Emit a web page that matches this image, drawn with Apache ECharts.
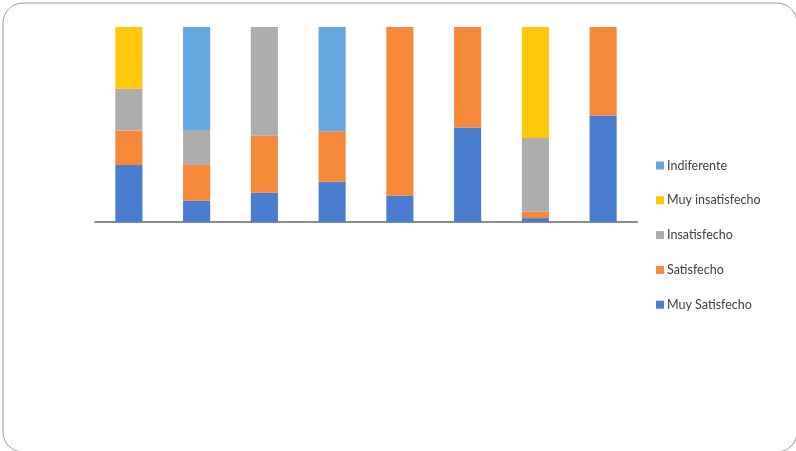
<!DOCTYPE html>
<html><head><meta charset="utf-8">
<script src="https://cdn.jsdelivr.net/npm/echarts@6/dist/echarts.min.js"></script>
<style>html,body{margin:0;padding:0;background:#fff}#c{width:796px;height:451px}</style>
</head><body><div id="c"></div>
<script>
const categories = ['1','2','3','4','5','6','7','8'];
const muySatisfecho   = [29.2, 10.9, 15.0, 20.6, 13.5, 48.4, 2.0, 54.6];
const satisfecho      = [17.7, 18.4, 29.2, 26.0, 86.5, 51.6, 3.2, 45.4];
const insatisfecho    = [21.4, 17.8, 55.8, 0, 0, 0, 37.9, 0];
const muyInsatisfecho = [31.7, 0, 0, 0, 0, 0, 56.9, 0];
const indiferente     = [0, 52.9, 0, 53.4, 0, 0, 0, 0];
const seriesNames = ['Muy Satisfecho','Satisfecho','Insatisfecho','Muy insatisfecho','Indiferente'];
const seriesData = [muySatisfecho, satisfecho, insatisfecho, muyInsatisfecho, indiferente];
const colors = ['#4A7DD0','#F68839','#ADADAD','#FFC80A','#65A5E0'];

const chart = echarts.init(document.getElementById('c'), null, {renderer:'canvas'});
chart.setOption({
  animation:false,
  color: colors,
  graphic:[{type:'rect', left:0.5, top:0.5, shape:{width:794, height:449, r:20}, style:{fill:'none', stroke:'#9A9A9A', lineWidth:1}, z:-1}],
  grid:{left:95, right:159, top:27, bottom:229},
  legend:{
    orient:'vertical', left:651, top:154,
    itemWidth:8, itemHeight:8, itemGap:21.8,
    icon:'rect',
    data: seriesNames.slice().reverse(),
    textStyle:{fontFamily:'Lato, "Noto Sans", sans-serif', fontSize:12.5, color:'#404040', padding:[0,0,0,-2]}
  },
  xAxis:{type:'category', data:categories,
    axisLine:{lineStyle:{color:'#8A8A8A', width:2}}, axisTick:{show:false}, axisLabel:{show:false}},
  yAxis:{type:'value', min:0, max:100, show:false, splitLine:{show:false}},
  series: seriesNames.map((n,i)=>({name:n, type:'bar', stack:'a', barWidth:'40%', data:seriesData[i]}))
});
</script></body></html>
